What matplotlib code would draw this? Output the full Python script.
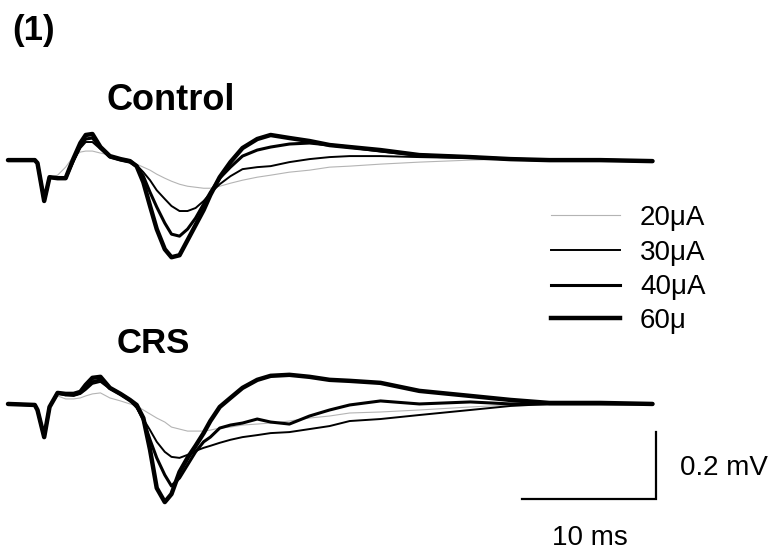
import matplotlib
matplotlib.use("Agg")
import matplotlib.pyplot as plt
import numpy as np

plt.rcParams['font.family'] = ['Liberation Sans', 'DejaVu Sans']

# ---------------- data (time in ms, voltage in mV) ----------------
t_ms = [0.0, 2.0, 2.2, 2.7, 3.1, 3.7, 4.3, 4.9, 5.4, 5.8, 6.3, 6.9, 7.6, 8.4,
        9.1, 9.6, 10.1, 10.6, 11.1, 11.7, 12.2, 12.8, 13.4, 14.0, 14.6, 15.1,
        15.8, 16.6, 17.5, 18.6, 19.6, 21.0, 22.5, 24.0, 25.5, 27.8, 30.7, 34.5,
        37.5, 40.4, 44.2, 48.1]

labels = ['20μA', '30μA', '40μA', '60μ']

control_20 = [0, 0, -0.009, -0.113, -0.051, -0.045, -0.021, 0.012, 0.024, 0.027, 0.027,
              0.021, 0.015, 0.006, -0.003, -0.012, -0.021, -0.030, -0.042, -0.054, -0.063,
              -0.072, -0.078, -0.081, -0.084, -0.084, -0.078, -0.069, -0.060, -0.051,
              -0.045, -0.036, -0.030, -0.021, -0.018, -0.012, -0.006, 0, 0.003, 0, 0, -0.003]
control_30 = [0, 0, -0.009, -0.122, -0.051, -0.054, -0.054, -0.003, 0.036, 0.054, 0.054,
              0.033, 0.009, 0.003, 0, -0.015, -0.036, -0.060, -0.090, -0.116, -0.137,
              -0.152, -0.152, -0.143, -0.122, -0.099, -0.072, -0.048, -0.027, -0.021,
              -0.018, -0.006, 0.003, 0.009, 0.012, 0.012, 0.009, 0.006, 0.003, 0, 0, -0.003]
control_40 = [0, 0, -0.009, -0.122, -0.051, -0.054, -0.054, 0, 0.042, 0.063, 0.066,
              0.036, 0.009, 0, -0.006, -0.018, -0.048, -0.096, -0.140, -0.188, -0.221,
              -0.227, -0.206, -0.173, -0.131, -0.096, -0.054, -0.021, 0.012, 0.030,
              0.039, 0.048, 0.051, 0.045, 0.039, 0.027, 0.015, 0.009, 0.003, 0, 0, -0.003]
control_60 = [0, 0, -0.009, -0.122, -0.051, -0.054, -0.054, 0.006, 0.051, 0.075, 0.078,
              0.039, 0.012, 0.003, -0.003, -0.018, -0.066, -0.137, -0.206, -0.266, -0.290,
              -0.284, -0.239, -0.194, -0.149, -0.104, -0.051, -0.006, 0.036, 0.063,
              0.075, 0.066, 0.057, 0.045, 0.039, 0.030, 0.015, 0.009, 0.003, 0, 0, -0.003]

crs_20 = [0, -0.003, -0.018, -0.093, -0.009, 0.024, 0.015, 0.015, 0.018, 0.024, 0.030,
          0.033, 0.018, 0.009, 0, -0.006, -0.018, -0.030, -0.042, -0.054, -0.069,
          -0.075, -0.081, -0.081, -0.081, -0.078, -0.072, -0.069, -0.063, -0.060,
          -0.057, -0.051, -0.042, -0.036, -0.027, -0.024, -0.018, -0.009, -0.003, 0, 0, 0]
crs_30 = [0, -0.003, -0.018, -0.099, -0.009, 0.033, 0.027, 0.024, 0.030, 0.042, 0.060,
          0.066, 0.045, 0.027, 0.009, -0.012, -0.045, -0.078, -0.113, -0.143, -0.158,
          -0.161, -0.152, -0.140, -0.131, -0.125, -0.116, -0.107, -0.099, -0.093,
          -0.087, -0.084, -0.075, -0.066, -0.051, -0.045, -0.033, -0.018, -0.006, 0, 0, 0]
crs_40 = [0, -0.003, -0.018, -0.099, -0.009, 0.033, 0.027, 0.027, 0.033, 0.048, 0.066,
          0.072, 0.048, 0.030, 0.012, -0.006, -0.048, -0.107, -0.161, -0.212, -0.245,
          -0.221, -0.182, -0.143, -0.113, -0.099, -0.072, -0.063, -0.057, -0.045,
          -0.054, -0.060, -0.036, -0.018, -0.003, 0.009, 0, 0.006, 0, 0, 0, 0]
crs_60 = [0, -0.003, -0.018, -0.099, -0.009, 0.033, 0.030, 0.030, 0.036, 0.057, 0.078,
          0.081, 0.048, 0.030, 0.012, -0.003, -0.042, -0.137, -0.251, -0.293, -0.269,
          -0.203, -0.161, -0.125, -0.087, -0.051, -0.009, 0.018, 0.048, 0.072,
          0.084, 0.087, 0.081, 0.072, 0.069, 0.063, 0.039, 0.024, 0.012, 0.003, 0.003, 0]

crs_offset = -0.728     # vertical offset of the CRS traces (mV)
scale_t = 10            # ms
scale_v = 0.2           # mV

# ---------------- styles ----------------
colors = ['#b4b4b4', 'black', 'black', 'black']
widths = [0.8, 1.4, 2.2, 3.2]

fig = plt.figure(figsize=(7.75, 5.51), dpi=100)
ax = fig.add_axes([0, 0, 1, 1])
ax.set_xlim(-0.597, 57.24)
ax.set_ylim(-1.167, 0.478)
ax.axis('off')

t = np.array(t_ms)
control = [control_20, control_30, control_40, control_60]
crs = [crs_20, crs_30, crs_40, crs_60]
for vals, c, w in zip(control, colors, widths):
    ax.plot(t, np.array(vals), color=c, lw=w, solid_joinstyle='round',
            solid_capstyle='round')
for vals, c, w in zip(crs, colors, widths):
    ax.plot(t, np.array(vals) + crs_offset, color=c, lw=w, solid_joinstyle='round',
            solid_capstyle='round')

# scale bar
sb_x1 = 48.36
sb_y0 = -1.012
ax.plot([sb_x1 - scale_t, sb_x1, sb_x1], [sb_y0, sb_y0, sb_y0 + scale_v],
        color='black', lw=1.6, solid_joinstyle='miter')

def fx(px):
    return px / 775.0

def fy(py):
    return 1 - py / 551.0

# legend (drawn manually)
leg_y = [215, 250, 285, 318]
for lab, c, w, y in zip(labels, colors, widths, leg_y):
    fig.add_artist(plt.Line2D([fx(551), fx(620)], [fy(y), fy(y)], color=c, lw=w,
                              transform=fig.transFigure))
    fig.text(fx(640), fy(y + 9.5), lab, fontsize=20, ha='left', va='baseline')

fig.text(fx(12), fy(40), '(1)', fontsize=25, fontweight='bold', ha='left', va='baseline')
fig.text(fx(107), fy(110), 'Control', fontsize=26, fontweight='bold', ha='left', va='baseline')
fig.text(fx(117), fy(353), 'CRS', fontsize=25, fontweight='bold', ha='left', va='baseline')
fig.text(fx(680), fy(475), '0.2 mV', fontsize=20, ha='left', va='baseline')
fig.text(fx(552), fy(545), '10 ms', fontsize=20, ha='left', va='baseline')

fig.savefig('out.png', dpi=100)
